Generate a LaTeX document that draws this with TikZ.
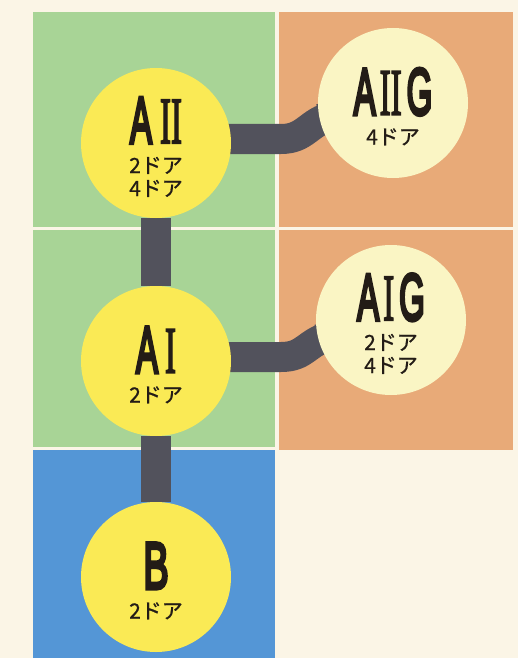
\documentclass[tikz,border=0pt]{standalone}
\usepackage{fontspec}
\usepackage{graphicx}
\usetikzlibrary{calc}
\setmainfont{Noto Sans CJK JP}[FakeBold=0.8]
\newfontfamily\capfont{Liberation Sans}[FakeBold=6]
\newfontfamily\romfont{Liberation Serif}[FakeBold=3]

\definecolor{paper}{RGB}{251,245,230}
\definecolor{leaf}{RGB}{168,212,150}
\definecolor{clay}{RGB}{232,170,120}
\definecolor{sky}{RGB}{84,150,214}
\definecolor{lemon}{RGB}{250,234,85}
\definecolor{cream}{RGB}{250,245,196}
\definecolor{linkgray}{RGB}{82,82,92}
\definecolor{ink}{RGB}{35,28,22}

% condensed heavy grade names
\newcommand\gradename[1]{\scalebox{0.5}[1]{\capfont\fontsize{66}{66}\selectfont #1}\rule{0pt}{54pt}}
\newcommand\rn[1]{{\romfont #1}}

\pgfdeclarelayer{panels}
\pgfdeclarelayer{wires}
\pgfsetlayers{panels,wires,main}

\begin{document}
\begin{tikzpicture}[x=1pt,y=-1pt,
  grade/.style={circle, fill=lemon, minimum size=150pt, inner sep=0pt,
    align=center, text=ink, font=\fontsize{21}{23}\selectfont},
  gtrim/.style={grade, fill=cream},
  link/.style={draw=linkgray, line width=30pt, line join=round}]
  \useasboundingbox (0,0) rectangle (518,658);
  % paper and coloured panels
  \begin{pgfonlayer}{panels}
    \fill[paper] (0,0) rectangle (518,658);
    \fill[leaf] (33,12) rectangle (275,227);
    \fill[clay] (279,12) rectangle (513,227);
    \fill[leaf] (33,230) rectangle (275,447);
    \fill[clay] (279,230) rectangle (513,450);
    \fill[sky] (33,450) rectangle (275,658);
  \end{pgfonlayer}
  % grades
  \node[grade] (a2) at (156,143) {\gradename{A\hspace{16pt}\rn{II}}\\[7pt] 2ドア\\ 4ドア};
  \node[gtrim] (a2g) at (393,103) {\gradename{A\hspace{8pt}\rn{II}\hspace{10pt}G}\\[7pt] 4ドア};
  \node[grade] (a1) at (156,361) {\gradename{A\hspace{14pt}\rn{I}}\\[7pt] 2ドア};
  \node[gtrim] (a1g) at (391,320) {\gradename{A\hspace{8pt}\rn{I}\hspace{10pt}G}\\[7pt] 2ドア\\ 4ドア};
  \node[grade] (b) at (156,577) {\gradename{\scalebox{1.15}[1]{B}}\\[7pt] 2ドア};
  % connecting bars
  \begin{pgfonlayer}{wires}
    \draw[link] (a2) -- (a1);
    \draw[link] (a1) -- (b);
    \draw[link] ($(a2)+(0,-4)$) -- ++(125,0)
      .. controls ($(a2)+(150,-4)$) and ($(a2g)+(-85,19)$) .. ($(a2g)+(-60,13)$) -- (a2g);
    \draw[link] ($(a1)+(0,-4)$) -- ++(125,0)
      .. controls ($(a1)+(150,-4)$) and ($(a1g)+(-85,22)$) .. ($(a1g)+(-60,16)$) -- (a1g);
  \end{pgfonlayer}
\end{tikzpicture}
\end{document}
